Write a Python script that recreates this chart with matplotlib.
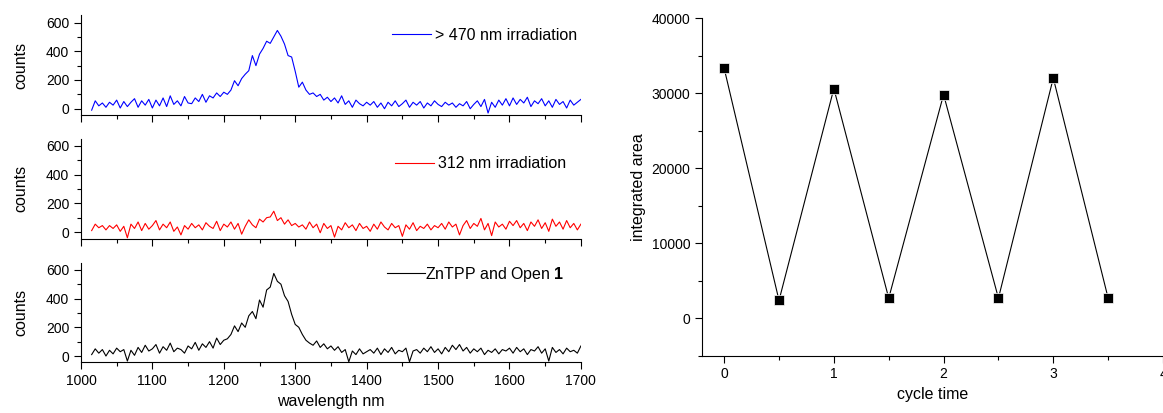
import numpy as np
import matplotlib
matplotlib.use("Agg")
import matplotlib.pyplot as plt
from matplotlib.ticker import MultipleLocator

plt.rcParams["font.family"] = ["Liberation Sans", "DejaVu Sans"]
plt.rcParams["mathtext.fontset"] = "custom"
plt.rcParams["mathtext.bf"] = "Liberation Sans:bold"
plt.rcParams["mathtext.rm"] = "Liberation Sans"

# ----- spectra (5 nm sampling) -----
wavelength = np.arange(1015, 1701, 5)

vis_irr = [  # > 470 nm irradiation
    -10, 55, 20, 40, 10, 45, 25, 60, 5, 50, 15, 45, 70, 10, 55, 25, 65, 5,
    60, 20, 75, 15, 90, 30, 55, 20, 85, 40,
    35, 75, 50, 100, 45, 90, 75, 110, 85, 115,
    100, 130, 195, 160, 210, 240, 265, 370, 300, 380,
    420, 470, 455, 500, 545, 505, 450, 370, 360, 260,
    150, 185, 130, 100, 110, 85, 100, 60, 80, 50,
    75, 40, 90, 30, 55, 10, 60, 35, 20, 45,
    25, 50, 10, 40, 0, 45, 20, 55, 15, 35,
    60, 10, 45, 25, 50, 5, 40, 20, 55, 30,
    15, 45, 25, 40, 10, 35, 20, 50, 0, 30,
    55, 15, 65, -30, 45, 10, 60, 25, 70, 20,
    75, 30, 65, 40, 80, 15, 55, 35, 70, 20,
    55, 10, 65, 30, 50, 5, 60, 25, 45, 65,
]

uv_irr = [  # 312 nm irradiation
    10, 55, 30, 45, 15, 45, 25, 50, 5, 40, -40, 55, 25, 70, 10, 60, 20, 45,
    80, 15, 55, 30, 70, 5, 35, -20, 45, 20,
    60, 30, 50, 15, 65, 40, 25, 75, 10, 55,
    35, 70, 20, 60, -15, 40, 85, 50, 30, 90,
    70, 100, 105, 145, 80, 100, 55, 85, 45, 60,
    35, 50, 20, 70, 30, 55, -5, 60, 25, 45,
    -35, 40, 15, 65, 30, 50, 10, 60, 25, 40,
    5, 55, 20, 70, 35, 15, 60, 30, 45, -30,
    50, 20, 65, 10, 40, 25, 55, 15, 45, 30,
    60, 20, 70, 35, 55, -20, 45, 80, 25, 60,
    40, 95, 15, 60, -25, 70, 35, 55, 20, 75,
    45, 80, 30, 60, 10, 70, 40, 85, 25, 65,
    5, 90, 40, 70, 20, 80, 30, 60, 15, 55,
]

znTPP_open = [  # ZnTPP and Open 1
    10, 50, 20, 45, 0, 40, 15, 55, 30, 45, -35, 40, 5, 60, 25, 75, 35, 50,
    80, 20, 65, 40, 90, 30, 55, 45, 20, 70,
    50, 95, 40, 85, 60, 100, 55, 125, 80, 110,
    120, 150, 210, 170, 230, 200, 280, 310, 260, 390,
    340, 460, 480, 575, 520, 500, 420, 380, 290, 220,
    200, 150, 110, 90, 75, 105, 60, 85, 50, 70,
    40, 65, 25, 45, -40, 35, 10, 50, 15, 30,
    45, 20, 55, 10, 50, 25, 60, 15, 40, 30,
    55, -40, 35, 45, 20, 55, 30, 65, 25, 50,
    15, 60, 30, 75, 45, 80, 35, 60, 20, 50,
    30, 55, 10, 40, 25, 50, 15, 45, 35, 55,
    20, 60, 30, 50, 10, 45, 35, 65, 20, 50,
    -35, 60, 25, 45, 15, 55, 30, 40, 20, 70,
]

# ----- integrated area per cycle -----
cycle_time = [0, 0.5, 1, 1.5, 2, 2.5, 3, 3.5]
integrated_area = [33300, 2350, 30600, 2650, 29800, 2650, 32000, 2650]

fig = plt.figure(figsize=(11.63, 4.13), dpi=100)

# (data, colour, legend text, axes bottom, legend anchor, text pad)
panels = [
    (vis_irr, "blue", "> 470 nm irradiation", 0.7211, (0.992, 0.80), 0.25),
    (uv_irr, "red", "312 nm irradiation", 0.4225, (0.970, 0.75), 0.25),
    (znTPP_open, "black", r"ZnTPP and Open $\mathbf{1}$", 0.1223, (0.968, 0.885), 0.0),
]

for i, (vals, col, lab, bottom, anchor, pad) in enumerate(panels):
    ax = fig.add_axes([0.0696, bottom, 0.4299, 0.2417])
    ax.plot(wavelength, vals, color=col, lw=0.8, label=lab)
    ax.set_xlim(1000, 1700)
    ax.set_ylim(-45, 650)
    for s in ["top", "right"]:
        ax.spines[s].set_visible(False)
    ax.xaxis.set_major_locator(MultipleLocator(100))
    ax.xaxis.set_minor_locator(MultipleLocator(50))
    ax.yaxis.set_major_locator(MultipleLocator(200))
    ax.yaxis.set_minor_locator(MultipleLocator(100))
    ax.tick_params(which="major", direction="out", length=5, width=0.8, labelsize=10)
    ax.tick_params(which="minor", direction="out", length=3, width=0.8)
    ax.set_ylabel("counts", fontsize=11.5)
    ax.yaxis.set_label_coords(-0.105, 0.5)
    if i < 2:
        ax.tick_params(labelbottom=False)
    else:
        ax.set_xlabel("wavelength nm", fontsize=11.5)
    ax.legend(loc="center right", bbox_to_anchor=anchor, frameon=False,
              fontsize=11.5, handlelength=2.4, handletextpad=pad,
              borderaxespad=0, borderpad=0)

# ----- right panel -----
ax2 = fig.add_axes([0.6038, 0.1392, 0.3962, 0.817])
ax2.plot(cycle_time, integrated_area, color="black", lw=0.8,
         marker="s", markersize=7, markerfacecolor="black",
         markeredgecolor="white", markeredgewidth=0.5)
ax2.set_xlim(-0.2, 4)
ax2.set_ylim(-5000, 40000)
for s in ["top", "right"]:
    ax2.spines[s].set_visible(False)
ax2.xaxis.set_major_locator(MultipleLocator(1))
ax2.xaxis.set_minor_locator(MultipleLocator(0.5))
ax2.yaxis.set_major_locator(MultipleLocator(10000))
ax2.yaxis.set_minor_locator(MultipleLocator(5000))
ax2.tick_params(which="major", direction="out", length=5, width=0.8, labelsize=10)
ax2.tick_params(which="minor", direction="out", length=3, width=0.8)
ax2.set_xlabel("cycle time", fontsize=11.5)
ax2.set_ylabel("integrated area", fontsize=11.5)

fig.savefig("out.png", dpi=100)
